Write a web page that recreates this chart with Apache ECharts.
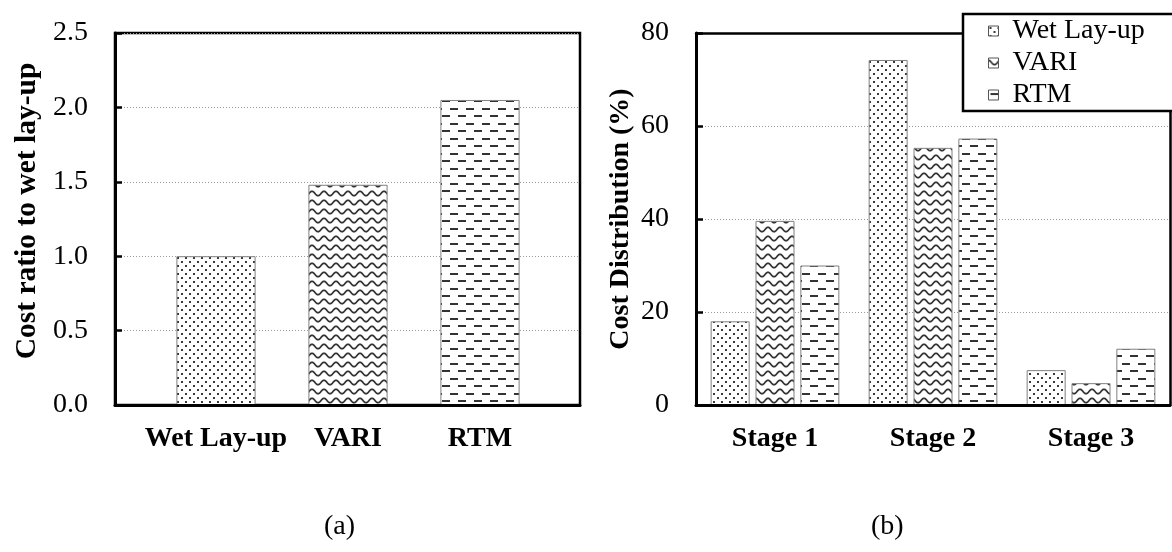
<!DOCTYPE html>
<html><head><meta charset="utf-8">
<script src="https://cdn.jsdelivr.net/npm/echarts@6/dist/echarts.min.js"></script>
<style>html,body{margin:0;padding:0;background:#fff}#c{width:1172px;height:552px}</style>
</head><body><div id="c"></div>
<script>
// ---- data ----
const methods = ['Wet Lay-up', 'VARI', 'RTM'];
const costRatio = [1.0, 1.48, 2.05];
const stages = ['Stage 1', 'Stage 2', 'Stage 3'];
const wetLayup = [18.0, 74.2, 7.5];
const vari = [39.6, 55.3, 4.7];
const rtm = [30.0, 57.3, 12.1];
const ratioAxis = { min: 0, max: 2.5, interval: 0.5 };
const distAxis = { min: 0, max: 80, interval: 20 };
const panelLabels = ['(a)', '(b)'];

// ---- patterns ----
function makeCanvas(w, h, draw) {
  const c = document.createElement('canvas');
  c.width = w; c.height = h;
  const g = c.getContext('2d');
  g.fillStyle = '#fff'; g.fillRect(0, 0, w, h);
  draw(g);
  return c;
}
const dotCanvas = makeCanvas(8, 8, g => {
  g.fillStyle = '#3a3a3a';
  g.fillRect(1, 1, 2, 2); g.fillRect(5, 5, 2, 2);
});
const waveCanvas = makeCanvas(12, 9, g => {
  g.strokeStyle = '#333'; g.lineWidth = 1.7;
  g.beginPath();
  for (let x = -1; x <= 13; x += 0.5) {
    const y = 4.5 - 2.2 * Math.cos(2 * Math.PI * x / 12);
    if (x === -1) g.moveTo(x, y); else g.lineTo(x, y);
  }
  g.stroke();
});
const dashCanvas = makeCanvas(16, 15, g => {
  g.fillStyle = '#333';
  g.fillRect(2, 3, 8, 2);
  g.fillRect(10, 10, 6, 2); g.fillRect(0, 10, 2, 2);
});
const patterns = [dotCanvas, waveCanvas, dashCanvas].map(c => ({ image: c, repeat: 'repeat' }));

const FONT = 'Liberation Serif';
const barBorder = { borderColor: '#808080', borderWidth: 1 };
const frameLine = { show: true, onZero: false, lineStyle: { color: '#000', width: 2.5 } };

function yAxisBase(range, name, nameGap, pad, nameSize, fmt) {
  return {
    type: 'value', min: range.min, max: range.max, interval: range.interval,
    axisLine: { show: true, lineStyle: { color: '#000', width: 3 } },
    axisTick: { show: true, inside: true, length: 7, lineStyle: { color: '#000', width: 2.5 } },
    axisLabel: { fontFamily: FONT, fontSize: 28, color: '#000', margin: 27, formatter: fmt },
    splitLine: { show: true, lineStyle: { color: '#999', type: [1, 2], width: 1 } },
    name: name, nameLocation: 'middle', nameGap: nameGap,
    nameTextStyle: { fontFamily: FONT, fontSize: nameSize, fontWeight: 'bold', color: '#000', padding: pad }
  };
}
const catLabel = { fontFamily: FONT, fontSize: 28, fontWeight: 'bold', color: '#000', margin: 20, interval: 0 };

const option = {
  animation: false,
  backgroundColor: '#fff',
  grid: [
    { left: 115, top: 33, width: 465, height: 372, show: true, borderColor: '#000', borderWidth: 2.5 },
    { left: 150, top: 33, width: 396, height: 372 },
    { left: 696, top: 33, width: 474, height: 372 }
  ],
  xAxis: [
    { gridIndex: 0, type: 'value', min: 0, max: 1, z: 5,
      axisLine: { show: true, onZero: false, lineStyle: { color: '#000', width: 3 } },
      axisTick: { show: false }, axisLabel: { show: false }, splitLine: { show: false } },
    { gridIndex: 1, type: 'category', data: methods,
      axisLine: { show: false }, axisTick: { show: false }, axisLabel: catLabel },
    { gridIndex: 2, type: 'category', data: stages, z: 5,
      axisLine: { show: true, onZero: false, lineStyle: { color: '#000', width: 3 } },
      axisTick: { show: false }, axisLabel: catLabel },
    { gridIndex: 2, type: 'category', data: stages, position: 'top',
      axisLine: frameLine, axisTick: { show: false }, axisLabel: { show: false }, splitLine: { show: false } }
  ],
  yAxis: [
    Object.assign({ gridIndex: 0 }, yAxisBase(ratioAxis, 'Cost ratio to wet lay-up', 73, [0, 0, 0, 16], 29.5, v => v.toFixed(1))),
    { gridIndex: 1, type: 'value', min: ratioAxis.min, max: ratioAxis.max, show: false, splitLine: { show: false } },
    Object.assign({ gridIndex: 2 }, yAxisBase(distAxis, 'Cost Distribution (%)', 61, [0, 0, 0, 0], 28, v => String(v))),
    { gridIndex: 2, type: 'value', min: distAxis.min, max: distAxis.max, position: 'right',
      axisLine: frameLine, axisTick: { show: false }, axisLabel: { show: false }, splitLine: { show: false } }
  ],
  legend: {
    orient: 'vertical', left: 964, top: 13, z: 10,
    data: methods,
    icon: 'rect',
    itemWidth: 10, itemHeight: 10, itemGap: 4,
    itemStyle: { borderColor: '#555', borderWidth: 1 },
    backgroundColor: 'transparent', borderWidth: 0,
    padding: [4, 10, 4, 24],
    textStyle: { fontFamily: FONT, fontSize: 28, color: '#000', padding: [0, 0, 0, 9] }
  },
  series: [
    { type: 'bar', name: 'ratio', xAxisIndex: 1, yAxisIndex: 1, barCategoryGap: '40%',
      itemStyle: barBorder,
      data: costRatio.map((v, i) => ({ value: v, itemStyle: { color: patterns[i] } })) },
    { type: 'bar', name: methods[0], xAxisIndex: 2, yAxisIndex: 2, barWidth: 39, barGap: '15%',
      itemStyle: Object.assign({ color: patterns[0] }, barBorder), data: wetLayup },
    { type: 'bar', name: methods[1], xAxisIndex: 2, yAxisIndex: 2, barWidth: 39, barGap: '15%',
      itemStyle: Object.assign({ color: patterns[1] }, barBorder), data: vari },
    { type: 'bar', name: methods[2], xAxisIndex: 2, yAxisIndex: 2, barWidth: 39, barGap: '15%',
      itemStyle: Object.assign({ color: patterns[2] }, barBorder), data: rtm }
  ],
  graphic: [
    { type: 'rect', z: 8, shape: { x: 963, y: 14, width: 209, height: 97 },
      style: { fill: '#fff', stroke: null } },
    { type: 'polyline', z: 9, shape: { points: [[1172, 14], [963, 14], [963, 111], [1172, 111]] },
      style: { fill: null, stroke: '#000', lineWidth: 2.5 } },
    { type: 'text', left: 324, top: 513, style: { text: panelLabels[0], font: '28px "Liberation Serif"', fill: '#000' } },
    { type: 'text', left: 871, top: 513, style: { text: panelLabels[1], font: '28px "Liberation Serif"', fill: '#000' } }
  ]
};
const chart = echarts.init(document.getElementById('c'), null, { renderer: 'canvas' });
chart.setOption(option);
</script>
</body></html>
